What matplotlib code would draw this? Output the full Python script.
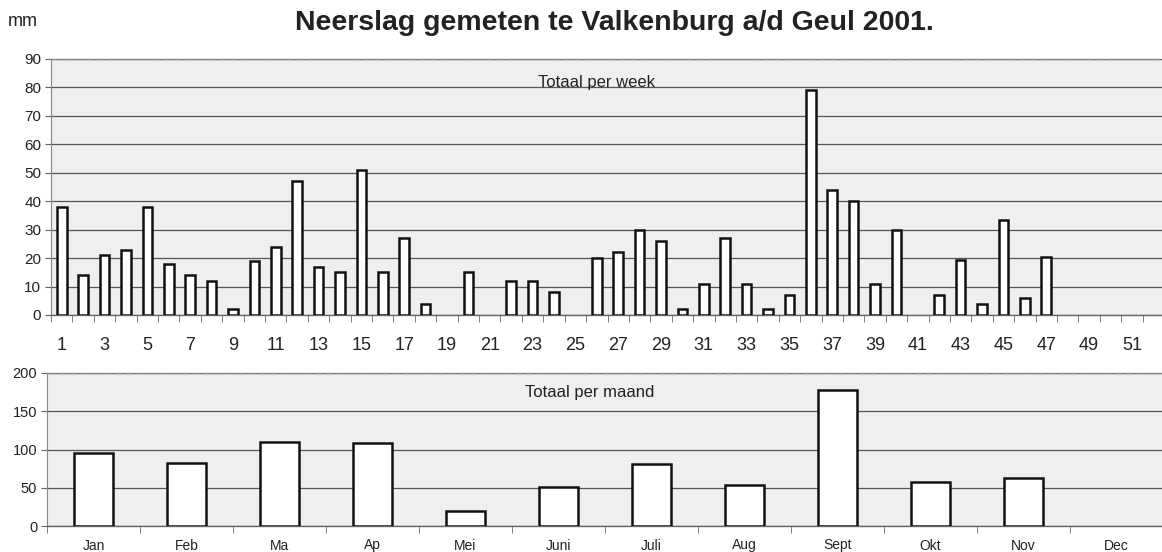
import matplotlib
matplotlib.use("Agg")
import matplotlib.pyplot as plt
import numpy as np

plt.rcParams['font.family'] = ['Liberation Sans', 'DejaVu Sans']

weeks = list(range(1, 53))
week_values = [38, 14, 21, 23, 38, 18, 14, 12, 2, 19,
               24, 47, 17, 15, 51, 15, 27, 4, 0, 15,
               0, 12, 12, 8, 0, 20, 22, 30, 26, 2,
               11, 27, 11, 2, 7, 79, 44, 40, 11, 30,
               0, 7, 19.5, 4, 33.5, 6, 20.5, 0, 0, 0,
               0, 0]
week_labels = [str(w) if w % 2 == 1 else "" for w in weeks]

months = ["Jan", "Feb", "Ma", "Ap", "Mei", "Juni", "Juli", "Aug", "Sept", "Okt", "Nov", "Dec"]
month_values = [96, 82, 110, 108, 19, 51.5, 81, 54, 178, 57, 63, 0]

W, H = 1162, 552
fig = plt.figure(figsize=(W / 100, H / 100), dpi=100)
fig.patch.set_facecolor("white")

bg = "#efefef"
grid_c = "#555555"
txt_c = "#222222"

def frac(x0, y0, x1, y1):
    return [x0 / W, 1 - y1 / H, (x1 - x0) / W, (y1 - y0) / H]

ax1 = fig.add_axes(frac(51, 59, 1164, 315))
ax2 = fig.add_axes(frac(47, 373, 1163, 526))

def style(ax):
    ax.set_facecolor(bg)
    ax.spines["right"].set_visible(False)
    ax.spines["top"].set_color("#888888")
    ax.spines["top"].set_linestyle((0, (6, 2)))
    ax.spines["top"].set_linewidth(1.0)
    ax.spines["left"].set_color("#888888")
    ax.spines["left"].set_linewidth(0.8)
    ax.spines["bottom"].set_color("#666666")
    ax.spines["bottom"].set_linewidth(1.0)
    ax.yaxis.grid(True, color=grid_c, linewidth=0.9)
    ax.set_axisbelow(True)
    ax.tick_params(axis="y", length=4, color="#666666", pad=3, labelcolor=txt_c)
    ax.tick_params(axis="x", which="major", length=0, labelcolor=txt_c)
    ax.tick_params(axis="x", which="minor", length=5, color="#666666", direction="out")

def hide_zero(bars, vals):
    for b, v in zip(bars, vals):
        if v == 0:
            b.set_linewidth(0)
            b.set_edgecolor("none")

# Weekly chart
xw = np.arange(len(weeks))
b1 = ax1.bar(xw, week_values, width=0.45, color="white", edgecolor="#111111", linewidth=1.8, zorder=3)
hide_zero(b1, week_values)
ax1.set_xlim(-0.5, len(weeks) - 0.5)
ax1.set_ylim(0, 90)
ax1.set_yticks(np.arange(0, 91, 10))
ax1.set_xticks(xw)
ax1.set_xticklabels(week_labels, fontsize=13)
ax1.set_xticks(np.arange(-0.5, len(weeks), 1), minor=True)
style(ax1)
ax1.tick_params(axis="y", labelsize=11)
ax1.tick_params(axis="x", which="major", pad=16)

# Monthly chart
xm = np.arange(len(months))
b2 = ax2.bar(xm, month_values, width=0.42, color="white", edgecolor="#111111", linewidth=1.8, zorder=3)
hide_zero(b2, month_values)
ax2.set_xlim(-0.5, len(months) - 0.5)
ax2.set_ylim(0, 200)
ax2.set_yticks(np.arange(0, 201, 50))
ax2.set_xticks(xm)
ax2.set_xticklabels(months, fontsize=10)
ax2.set_xticks(np.arange(-0.5, len(months), 1), minor=True)
style(ax2)
ax2.tick_params(axis="y", labelsize=10.5)
ax2.tick_params(axis="x", which="major", pad=9)

fig.text(597 / W, 1 - 83 / H, "Totaal per week", fontsize=12,
         ha="center", va="center", color=txt_c)
fig.text(590 / W, 1 - 392 / H, "Totaal per maand", fontsize=12,
         ha="center", va="center", color=txt_c)

fig.text(614 / W, 1 - 23 / H, "Neerslag gemeten te Valkenburg a/d Geul 2001.",
         fontsize=20.5, fontweight="bold", ha="center", va="center", color=txt_c)
fig.text(8 / W, 1 - 22 / H, "mm", fontsize=13, ha="left", va="center", color=txt_c)

fig.savefig("out.png", dpi=100, facecolor="white")
